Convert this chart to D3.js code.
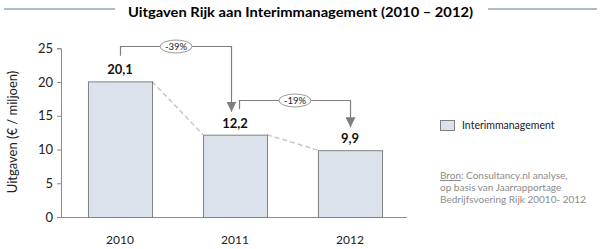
<!DOCTYPE html>
<html><head><meta charset="utf-8">
<script src="https://cdn.jsdelivr.net/npm/d3@7"></script>
<style>body{margin:0;background:#fff}svg{display:block}text{font-family:Lato,"Open Sans",sans-serif}</style>
</head><body>
<svg id="c" width="600" height="249"></svg>
<script>
const categories = ["2010", "2011", "2012"];
const values = [20.1, 12.2, 9.9];
const valueLabels = ["20,1", "12,2", "9,9"];
const yTicks = [0, 5, 10, 15, 20, 25];
const changes = [{from: 0, to: 1, label: "-39%"}, {from: 1, to: 2, label: "-19%"}];
const seriesName = "Interimmanagement";
const title = "Uitgaven Rijk aan Interimmanagement (2010 – 2012)";
const yLabel = "Uitgaven (€ / miljoen)";
const sourceLines = ["op basis van Jaarrapportage", "Bedrijfsvoering Rijk 20010- 2012"];

const svg = d3.select("#c");
const axisColor = "#8c8c8c";
const x = d3.scaleBand().domain(categories).range([62.5, 407.5]).paddingInner(0.443).paddingOuter(0.2215);
const y = d3.scaleLinear().domain([0, 25]).range([217, 48.3]);

// title
svg.append("line").attr("x1", 4).attr("x2", 115).attr("y1", 9).attr("y2", 9).attr("stroke", "#5f7a99").attr("stroke-width", 1);
svg.append("line").attr("x1", 488).attr("x2", 597).attr("y1", 9).attr("y2", 9).attr("stroke", "#5f7a99").attr("stroke-width", 1);
svg.append("text").attr("x", 300.5).attr("y", 17).attr("text-anchor", "middle").attr("font-weight", "bold").attr("font-size", 14)
  .attr("textLength", 345).attr("lengthAdjust", "spacingAndGlyphs").text(title);

// y axis
const yAxis = svg.append("g").attr("transform", "translate(61,0)")
  .call(d3.axisLeft(y).tickValues(yTicks).tickSize(4).tickPadding(4));
yAxis.select(".domain").attr("stroke", axisColor);
yAxis.selectAll(".tick line").attr("stroke", axisColor);
yAxis.selectAll(".tick text").attr("font-size", 13).attr("fill", "#222").style("font-family", "Lato, sans-serif");

// x axis
const xAxis = svg.append("g").attr("transform", "translate(0,217)")
  .call(d3.axisBottom(x).tickSize(0).tickPadding(18));
xAxis.select(".domain").attr("stroke", axisColor).attr("d", "M61,0.5H407");
xAxis.selectAll(".tick text").attr("font-size", 12).attr("fill", "#222").style("font-family", "Lato, sans-serif");

svg.append("text").attr("transform", "translate(17,132) rotate(-90)").attr("text-anchor", "middle")
  .attr("font-size", 13).attr("fill", "#222").text(yLabel);

// dashed connectors
for (let i = 0; i < values.length - 1; i++) {
  svg.append("line")
    .attr("x1", x(categories[i]) + x.bandwidth()).attr("y1", y(values[i]))
    .attr("x2", x(categories[i + 1])).attr("y2", y(values[i + 1]))
    .attr("stroke", "#c8c8c8").attr("stroke-width", 1.5).attr("stroke-dasharray", "5,3");
}

// bars
svg.selectAll("rect.bar").data(values).join("rect").attr("class", "bar")
  .attr("x", (d, i) => x(categories[i]) + 0.5).attr("y", d => y(d) + 0.5)
  .attr("width", x.bandwidth()).attr("height", d => y(0) - y(d))
  .attr("fill", "#dbe2ec").attr("stroke", "#808080").attr("stroke-width", 1);

// value labels
svg.selectAll("text.val").data(values).join("text").attr("class", "val")
  .attr("x", (d, i) => x(categories[i]) + x.bandwidth() / 2).attr("y", d => y(d) - 7)
  .attr("text-anchor", "middle").attr("font-weight", "bold").attr("font-size", 13).attr("fill", "#111")
  .text((d, i) => valueLabels[i]);

// change arrows
const defs = svg.append("defs");
defs.append("marker").attr("id", "arr").attr("viewBox", "0 0 10 10").attr("refX", 10).attr("refY", 5)
  .attr("markerWidth", 10).attr("markerHeight", 10).attr("markerUnits", "userSpaceOnUse").attr("orient", "auto")
  .append("path").attr("d", "M0,0L10,5L0,10Z").attr("fill", "#7f7f7f");

changes.forEach(c => {
  const x0 = x(categories[c.from]) + x.bandwidth() / 2 + 0.5;
  const x1 = x(categories[c.to]) + x.bandwidth() / 2 + 0.5;
  const yStart = y(values[c.from]) - 25.5;
  const yTop = y(values[c.from]) - 35;
  const yEnd = y(values[c.to]) - 23;
  const xs = c.from === 0 ? x0 : x0 + 4;
  const xe = c.from === 0 ? x1 - 4 : x1;
  svg.append("path").attr("d", `M${xs},${yStart}V${Math.round(yTop)+0.5}H${xe}V${yEnd}`)
    .attr("fill", "none").attr("stroke", "#7f7f7f").attr("stroke-width", 1.2).attr("marker-end", "url(#arr)");
  const cx = (xs + xe) / 2;
  svg.append("ellipse").attr("cx", cx).attr("cy", Math.round(yTop) + 0.5).attr("rx", 16).attr("ry", 6.5)
    .attr("fill", "#fff").attr("stroke", "#808080").attr("stroke-width", 0.8);
  svg.append("text").attr("x", cx).attr("y", Math.round(yTop) + 4).attr("text-anchor", "middle")
    .attr("font-size", 9.5).attr("fill", "#222").text(c.label);
});

// legend
svg.append("rect").attr("x", 440.5).attr("y", 120.5).attr("width", 14).attr("height", 10)
  .attr("fill", "#dbe2ec").attr("stroke", "#808080");
svg.append("text").attr("x", 462).attr("y", 129).attr("font-size", 10.5).attr("fill", "#222").text(seriesName);

// source
const src = svg.append("text").attr("x", 440).attr("y", 179).attr("font-size", 10).attr("fill", "#8c8c8c");
src.append("tspan").attr("text-decoration", "underline").text("Bron");
src.append("tspan").text(": Consultancy.nl analyse,");
sourceLines.forEach((l, i) => {
  svg.append("text").attr("x", 440).attr("y", 191 + i * 11.5).attr("font-size", 10).attr("fill", "#8c8c8c").text(l);
});
</script>
</body></html>
